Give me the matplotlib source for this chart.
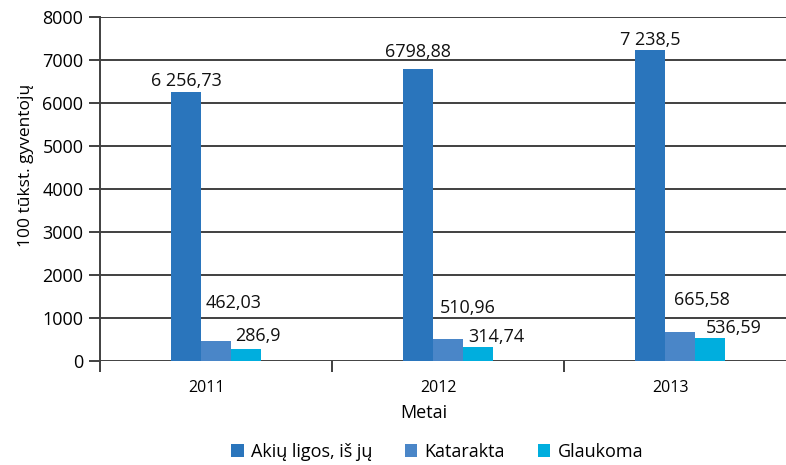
import matplotlib
matplotlib.use("Agg")
import matplotlib.pyplot as plt
import numpy as np

years = ["2011", "2012", "2013"]
series_names = ["Akių ligos, iš jų", "Katarakta", "Glaukoma"]
akiu = [6256.73, 6798.88, 7238.5]
katarakta = [462.03, 510.96, 665.58]
glaukoma = [286.9, 314.74, 536.59]
akiu_labels = ["6 256,73", "6798,88", "7 238,5"]
katarakta_labels = ["462,03", "510,96", "665,58"]
glaukoma_labels = ["286,9", "314,74", "536,59"]
y_ticks = [0, 1000, 2000, 3000, 4000, 5000, 6000, 7000, 8000]

colors = ["#2A75BC", "#4A86C8", "#00AEDE"]
grid_c = "#404040"

# label offsets (pixels) mimicking the hand-placed labels of the original
akiu_off = [(0, 6), (0, 12), (0, 5)]
kat_off = [(18, 33), (20, 26), (22, 27)]
gla_off = [(12, 8), (18, 5), (24, 5)]

plt.rcParams['font.family'] = ['Open Sans', 'DejaVu Sans']

fig = plt.figure(figsize=(7.86, 4.65), dpi=100)
ax = fig.add_axes([100/786, 104/465, 686/786, 344/465])

x = np.arange(len(years))
w = 0.129
b1 = ax.bar(x - w, akiu, w, color=colors[0], label=series_names[0], zorder=3)
b2 = ax.bar(x, katarakta, w, color=colors[1], label=series_names[1], zorder=3)
b3 = ax.bar(x + w, glaukoma, w, color=colors[2], label=series_names[2], zorder=3)

bbox = dict(facecolor="white", edgecolor="none", pad=0.0)
fs = 13
for i in range(len(years)):
    ax.annotate(akiu_labels[i], (x[i] - w, akiu[i]), xytext=akiu_off[i],
                textcoords="offset pixels", ha="center", va="baseline",
                fontsize=fs, color="#111111", zorder=5)
    ax.annotate(katarakta_labels[i], (x[i], katarakta[i]), xytext=kat_off[i],
                textcoords="offset pixels", ha="center", va="baseline",
                fontsize=fs, color="#111111", zorder=5)
    ax.annotate(glaukoma_labels[i], (x[i] + w, glaukoma[i]), xytext=gla_off[i],
                textcoords="offset pixels", ha="center", va="baseline",
                fontsize=fs, color="#111111", zorder=5, bbox=bbox)

ax.set_xlim(-0.5, -0.5 + 686/232)
ax.set_ylim(0, 8000)
ax.set_yticks(y_ticks)
ax.set_yticklabels([str(v) for v in y_ticks], fontsize=13)
ax.yaxis.grid(True, color=grid_c, linewidth=1.4, zorder=0)
ax.set_axisbelow(True)

ax.set_xticks(x - 0.04)
ax.set_xticklabels(years, fontsize=11.5)
ax.tick_params(axis="x", which="major", length=0, pad=14)
ax.set_xticks([-0.5, 0.5, 1.5], minor=True)
ax.tick_params(axis="x", which="minor", length=8, width=1.4, color=grid_c, direction="out")
ax.tick_params(axis="y", length=8, width=1.4, color=grid_c, pad=4)

for s in ["top", "right", "bottom"]:
    ax.spines[s].set_visible(False)
ax.spines["left"].set_color(grid_c)
ax.spines["left"].set_linewidth(1.4)

ax.set_xlabel("Metai", fontsize=13)
ax.xaxis.set_label_coords((424 - 100) / 686, -(404 - 361) / 344)
ax.set_ylabel("100 tūkst. gyventojų", fontsize=12.5)
ax.yaxis.set_label_coords(-(100 - 34) / 686, (361 - 165) / 344)

fig.legend(handles=[b1, b2, b3], labels=series_names, loc="center",
           bbox_to_anchor=(437/786, 1 - 452/465), ncol=3, frameon=False,
           fontsize=13, handlelength=0.7, handleheight=0.7, handletextpad=0.4,
           columnspacing=1.8)

fig.savefig("out.png", dpi=100)
